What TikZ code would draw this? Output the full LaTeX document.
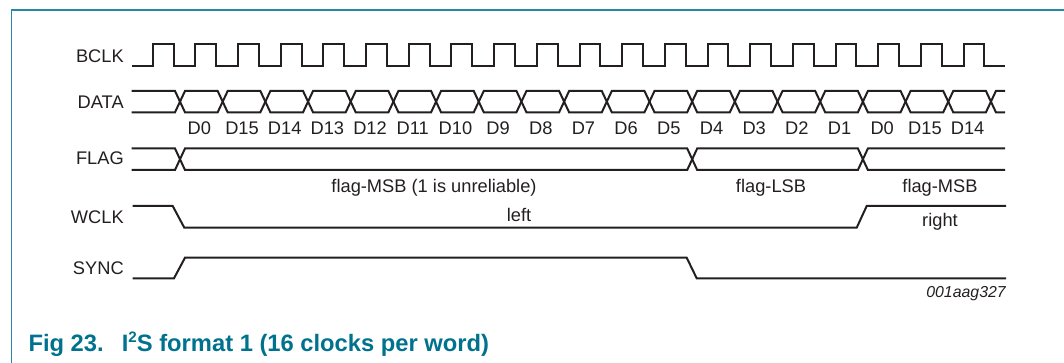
\documentclass[tikz,border=0pt]{standalone}
\usepackage{fontspec}
\setmainfont{Liberation Sans}
\definecolor{sig}{RGB}{35,31,32}
\definecolor{nxpteal}{RGB}{0,114,142}
\definecolor{framecol}{RGB}{40,135,165}
\begin{document}
\begin{tikzpicture}[x=0.75pt,y=-0.75pt,
  wave/.style={draw=sig,line width=1.5pt,line join=miter,line cap=butt},
  lab/.style={font=\fontsize{13.7}{16}\selectfont,text=sig,inner sep=0pt},
  note/.style={font=\fontsize{11.9}{14}\selectfont\itshape,text=sig,inner sep=0pt},
  capt/.style={font=\fontsize{17.8}{21}\selectfont\bfseries,text=nxpteal,inner sep=0pt}]
\useasboundingbox (0,0) rectangle (1064,363);
\def\bper{42.68}
% frame
\draw[framecol,line width=1pt] (1064,10) -- (11.5,10) -- (11.5,363);
% signal names
\node[lab,anchor=base east] (nbclk) at (124,62.7) {BCLK};
\node[lab,anchor=base east] (ndata) at (124,108.3) {DATA};
\node[lab,anchor=base east] (nflag) at (124,165) {FLAG};
\node[lab,anchor=base east] (nwclk) at (124,224) {WCLK};
\node[lab,anchor=base east] (nsync) at (124,274.3) {SYNC};
% BCLK
\draw[wave] (131.7,66) foreach \k in {0,...,19} {
   -- ({152.7+\k*\bper},66) -- ({152.7+\k*\bper},44)
   -- ({173.5+\k*\bper},44) -- ({173.5+\k*\bper},66) } -- (1005,66);
% DATA
\draw[wave] (131.7,91) -- (175,91) -- (180,101.65) -- (175,112.3) -- (131.7,112.3);
\foreach \k in {0,...,18} {
  \draw[wave] ({180+\k*\bper},101.65) -- ({185+\k*\bper},91) -- ({175+(\k+1)*\bper},91)
    -- ({180+(\k+1)*\bper},101.65) -- ({175+(\k+1)*\bper},112.3) -- ({185+\k*\bper},112.3) -- cycle;
}
\draw[wave] (1005,91) -- ({185+19*\bper},91) -- ({180+19*\bper},101.65) -- ({185+19*\bper},112.3) -- (1005,112.3);
\foreach \t [count=\i from 0] in {D0,D15,D14,D13,D12,D11,D10,D9,D8,D7,D6,D5,D4,D3,D2,D1,D0,D15,D14} {
  \node[lab,anchor=base] (d\i) at ({180+(\i+0.5)*\bper-2},134.3) {\t};
}
% FLAG
\draw[wave] (131.7,148.5) -- (175,148.5) -- (180,159.25) -- (175,170) -- (131.7,170);
\draw[wave] (180,159.25) -- (185,148.5) -- (687.2,148.5) -- (692.2,159.25) -- (687.2,170) -- (185,170) -- cycle;
\draw[wave] (692.2,159.25) -- (697.2,148.5) -- (857.9,148.5) -- (862.9,159.25) -- (857.9,170) -- (697.2,170) -- cycle;
\draw[wave] (1005,148.5) -- (867.9,148.5) -- (862.9,159.25) -- (867.9,170) -- (1005,170);
\node[lab,anchor=base] (fmsb1) at (434,192.5) {flag-MSB (1 is unreliable)};
\node[lab,anchor=base] (flsb) at (771,192.5) {flag-LSB};
\node[lab,anchor=base] (fmsb2) at (940,192.5) {flag-MSB};
% WCLK
\draw[wave] (132.7,206) -- (172.7,206) -- (184.3,227.7) -- (856.7,227.7) -- (866.7,206) -- (1006,206);
\node[lab,anchor=base] (wleft) at (519,221.7) {left};
\node[lab,anchor=base] (wright) at (940,227) {right};
% SYNC
\draw[wave] (132.7,278.3) -- (174,278.3) -- (185,257.7) -- (686.7,257.7) -- (696.7,278.3) -- (1006,278.3);
\node[note,anchor=base east] (code) at (1006,298) {001aag327};
% caption
\node[capt,anchor=base west] (cap) at (28.3,351.7)
  {Fig 23.\hspace{13.6pt}I\raisebox{6.6pt}{\fontsize{11.4}{11.4}\selectfont 2}S format 1 (16 clocks per word)};
\end{tikzpicture}
\end{document}
